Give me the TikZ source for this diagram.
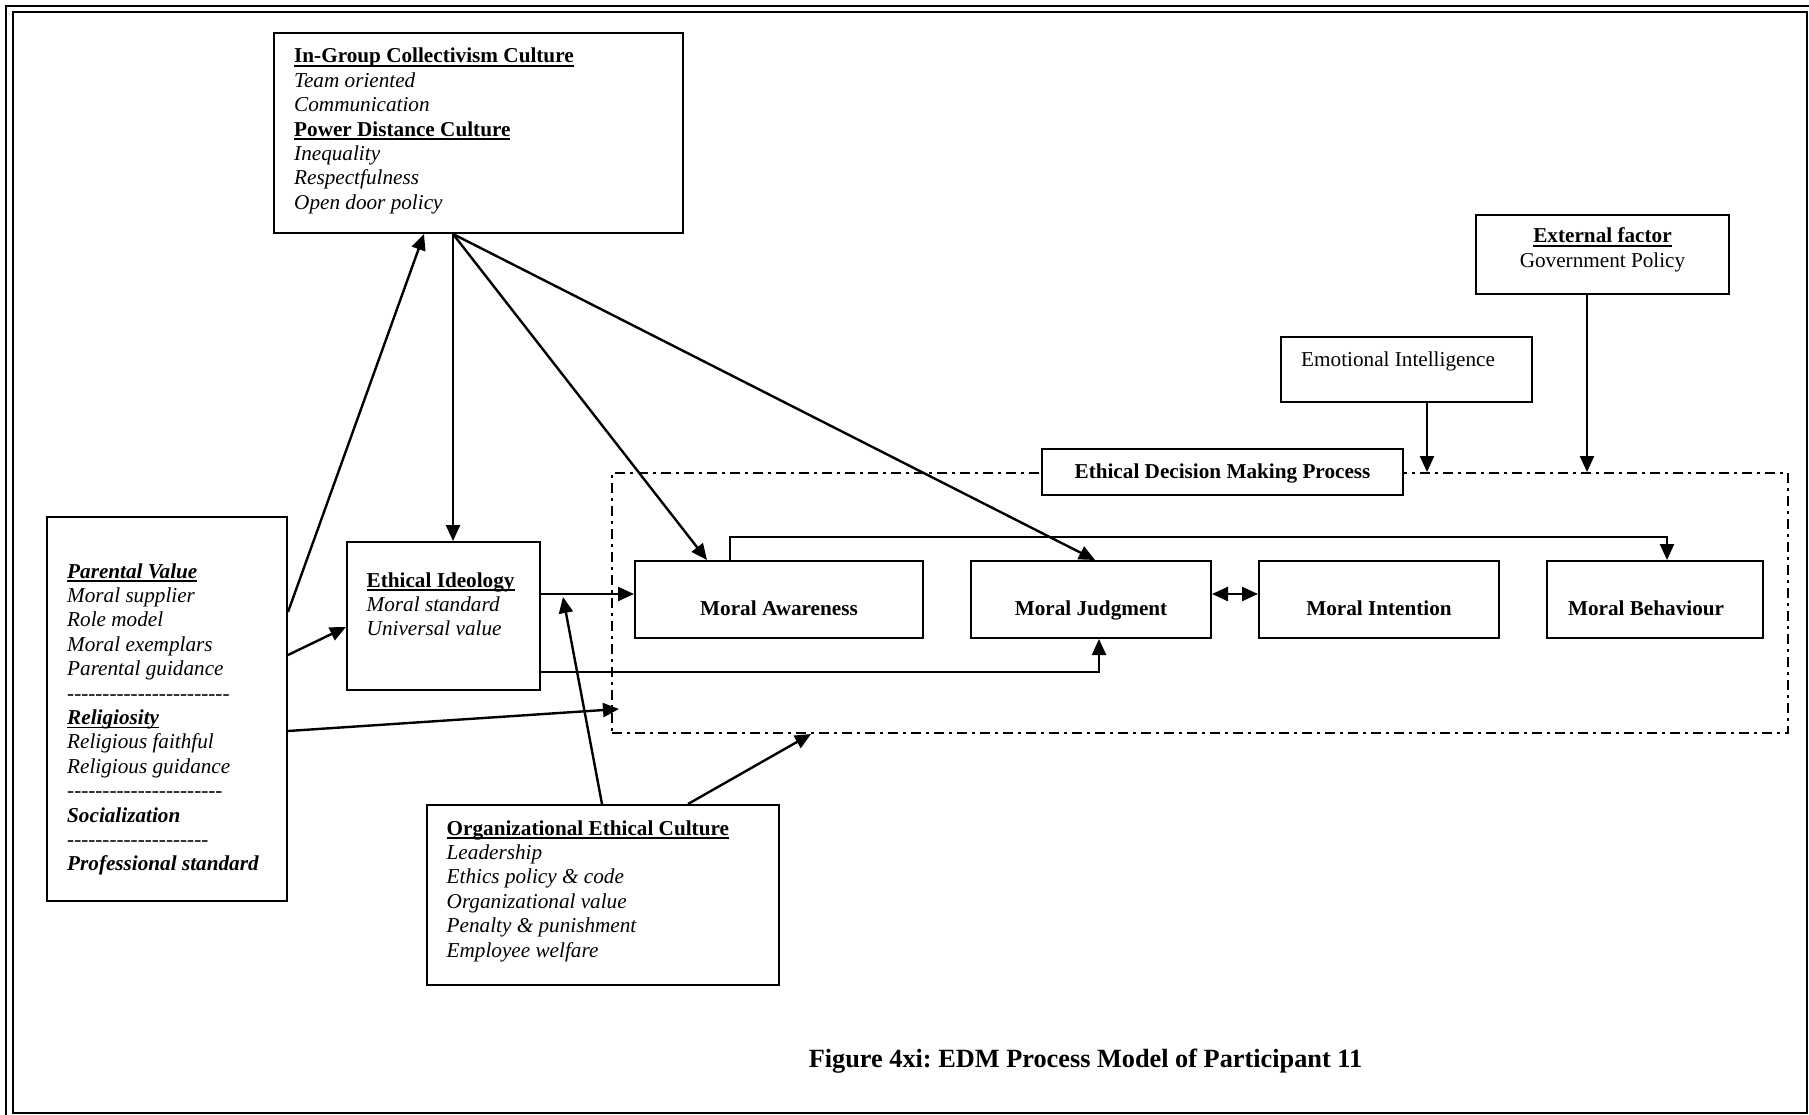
\documentclass[tikz,border=0pt]{standalone}
\usepackage{fontspec}
\setmainfont{Liberation Serif}
\usetikzlibrary{arrows.meta}
\frenchspacing
\newcommand\uln[1]{\setbox0\hbox{#1}\rlap{\rule[-0.17em]{\wd0}{0.07em}}\box0}
\newcommand\txtlines[1]{\begin{tabular}[t]{@{}l@{}}#1\end{tabular}}
\newcommand\ctrlines[1]{\begin{tabular}[t]{@{}c@{}}#1\end{tabular}}
\newcommand\myhyphs[1]{\ifnum#1>0 -\kern0pt\expandafter\myhyphs\expandafter{\the\numexpr#1-1\relax}\fi}
\tikzset{
  box/.style={draw, line width=2pt, inner sep=0, anchor=north west, fill=white},
  frame/.style={draw, line width=2pt, dash pattern=on 10pt off 5pt on 3pt off 5pt, inner sep=0, anchor=north west},
  txt/.style={inner sep=0, anchor=base west, font=\fontsize{21.2}{24.4}\selectfont},
  ctxt/.style={inner sep=0, anchor=base, font=\fontsize{21.2}{24.4}\selectfont},
  btxt/.style={inner sep=0, anchor=base, font=\fontsize{21.2}{24.4}\selectfont\bfseries},
  arr/.style={line width=2.4pt, -{Triangle[length=16pt,width=14pt]}},
  dbl/.style={line width=2.4pt, {Triangle[length=16pt,width=14pt]}-{Triangle[length=16pt,width=14pt]}},
}
\begin{document}
\frenchspacing
\begin{tikzpicture}[x=1pt,y=-1pt]
\useasboundingbox (0,0) rectangle (1809,1115);
% page border
\draw[line width=2.6pt] (6,1115) -- (6,6) -- (1809,6);
\draw[line width=2pt] (12.5,12.5) rectangle (1806.5,1112.5);

% EDM frame
\node[frame, minimum width=1176pt, minimum height=260pt] (edm) at (611,472) {};

% boxes
\node[box, minimum width=409pt, minimum height=200pt] (ingroup) at (273,32) {};
\node[box, minimum width=253pt, minimum height=79pt] (ext) at (1475,214) {};
\node[box, minimum width=251pt, minimum height=65pt] (emo) at (1280,336) {};
\node[box, minimum width=361pt, minimum height=46pt] (edmlabel) at (1041,448) {};
\node[box, minimum width=288pt, minimum height=77pt] (aware) at (634,560) {};
\node[box, minimum width=240pt, minimum height=77pt] (judg) at (970,560) {};
\node[box, minimum width=240pt, minimum height=77pt] (intent) at (1258,560) {};
\node[box, minimum width=216pt, minimum height=77pt] (behav) at (1546,560) {};
\node[box, minimum width=193pt, minimum height=148pt] (ideology) at (346,541) {};
\node[box, minimum width=240pt, minimum height=384pt] (parental) at (46,516) {};
\node[box, minimum width=352pt, minimum height=180pt] (org) at (426,804) {};

% texts
\node[txt] (ingroupT) at (294,63) {\txtlines{%
  \bfseries\uln{In-Group Collectivism Culture}\\
  \itshape Team oriented\\
  \itshape Communication\\
  \bfseries\uln{Power Distance Culture}\\
  \itshape Inequality\\
  \itshape Respectfulness\\
  \itshape Open door policy}};
\node[ctxt] (extT) at (ext.center |- 0,243) {\ctrlines{\bfseries\uln{External factor}\\ Government Policy}};
\node[txt] (emoT) at (1301,366) {Emotional Intelligence};
\node[btxt] (edmT) at (edmlabel.center |- 0,478) {Ethical Decision Making Process};
\node[btxt] (awareT) at (aware.center |- 0,615) {Moral Awareness};
\node[btxt] (judgT) at (judg.center |- 0,615) {Moral Judgment};
\node[btxt] (intentT) at (intent.center |- 0,615) {Moral Intention};
\node[btxt] (behavT) at ([xshift=-9pt]behav.center |- 0,615) {Moral Behaviour};
\node[txt] (ideologyT) at (366.5,587) {\txtlines{%
  \bfseries\uln{Ethical Ideology}\\
  \itshape Moral standard\\
  \itshape Universal value}};
\node[txt] (parentalT) at (67,578) {\txtlines{%
  \bfseries\itshape\uln{Parental Value}\\
  \itshape Moral supplier\\
  \itshape Role model\\
  \itshape Moral exemplars\\
  \itshape Parental guidance\\
  \itshape\myhyphs{23}\\
  \bfseries\itshape\uln{Religiosity}\\
  \itshape Religious faithful\\
  \itshape Religious guidance\\
  \itshape\myhyphs{22}\\
  \bfseries\itshape Socialization\\
  \itshape\myhyphs{20}\\
  \bfseries\itshape Professional standard}};
\node[txt] (orgT) at (446.5,835) {\txtlines{%
  \bfseries\uln{Organizational Ethical Culture}\\
  \itshape Leadership\\
  \itshape Ethics policy \& code\\
  \itshape Organizational value\\
  \itshape Penalty \& punishment\\
  \itshape Employee welfare}};
\node[inner sep=0, anchor=base, font=\fontsize{26.3}{30}\selectfont\bfseries] (caption) at (1085.5,1067) {Figure 4xi: EDM Process Model of Participant 11};

% connectors
\coordinate (pvtip) at (619,709);
\coordinate (orgtip) at (563,597);
\draw[arr] (parental.east |- 0,612) -- (ingroup.south -| 424,0);
\draw[arr] (parental.east |- 0,655) -- (ideology.west |- 0,627);
\draw[arr] (parental.east |- 0,731) -- (pvtip);
\draw[arr] (ingroup.south -| 453,0) -- (ideology.north -| 453,0);
\draw[arr] (ingroup.south -| 453,0) -- (aware.north -| 707,0);
\draw[arr] (ingroup.south -| 453,0) -- (judg.north -| 1095,0);
\draw[arr] (ideology.east |- 0,594) -- (aware.west |- 0,594);
\draw[arr] (ideology.east |- 0,672) -| (judg.south -| 1099,0);
\draw[arr] (aware.north -| 730,0) -- (730,537) -- (1667,537) -- (behav.north -| 1667,0);
\draw[dbl] (judg.east |- 0,594) -- (intent.west |- 0,594);
\draw[arr] (org.north -| 602,0) -- (orgtip);
\draw[arr] (org.north -| 688,0) -- (edm.south -| 811,0);
\draw[arr] (emo.south -| 1427,0) -- (edm.north -| 1427,0);
\draw[arr] (ext.south -| 1587,0) -- (edm.north -| 1587,0);
\end{tikzpicture}
\end{document}
